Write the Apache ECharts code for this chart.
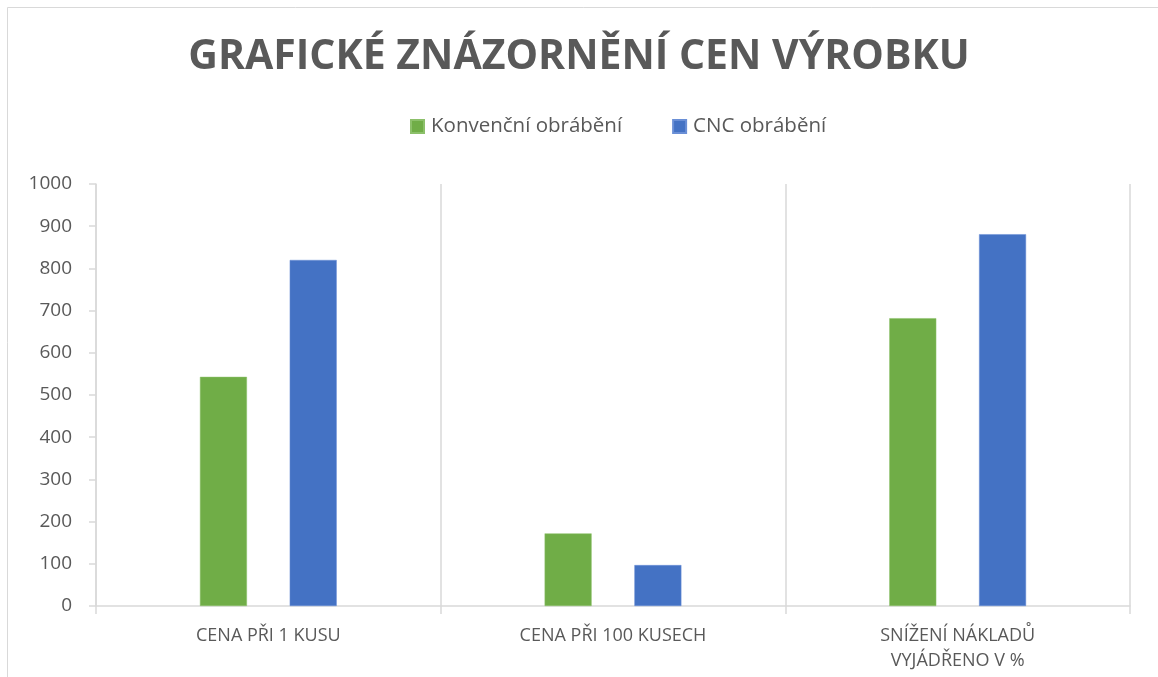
<!DOCTYPE html>
<html>
<head>
<meta charset="utf-8">
<script src="https://cdn.jsdelivr.net/npm/echarts@6/dist/echarts.min.js"></script>
<style>html,body{margin:0;padding:0;background:#fff}#c{width:1158px;height:677px}</style>
</head>
<body>
<div id="c"></div>
<script>
const titleText = 'GRAFICKÉ ZNÁZORNĚNÍ CEN VÝROBKU';
const categories = ['CENA PŘI 1 KUSU', 'CENA PŘI 100 KUSECH', 'SNÍŽENÍ NÁKLADŮ\nVYJÁDŘENO V %'];
const seriesNames = ['Konvenční obrábění', 'CNC obrábění'];
const konvencni = [543, 172, 682];
const cnc = [820, 97, 881];
const yMin = 0, yMax = 1000, yStep = 100;

const chart = echarts.init(document.getElementById('c'), null, {renderer: 'canvas'});
const txt = '#595959';
const line = '#d9d9d9';
chart.setOption({
  animation: false,
  backgroundColor: '#fff',
  graphic: [{
    type: 'rect', shape: {x: 7.5, y: 7.5, width: 1170, height: 700},
    style: {fill: 'none', stroke: line, lineWidth: 1}, silent: true, z: -1
  }],
  title: {
    text: titleText, left: 'center', top: 32,
    textStyle: {fontFamily: 'Open Sans', fontWeight: 'bold', fontSize: 41, color: txt}
  },
  legend: {
    top: 111, left: 405, itemWidth: 13, itemHeight: 13, itemGap: 50,
    icon: 'rect',
    textStyle: {fontFamily: 'Open Sans', fontSize: 20.5, color: txt, padding: [0, 0, 0, 2]},
    data: seriesNames
  },
  grid: {left: 96, right: 28, top: 184, bottom: 71, containLabel: false},
  xAxis: {
    type: 'category', data: categories, boundaryGap: true,
    axisLine: {show: true, lineStyle: {color: line, width: 1.5}},
    axisTick: {show: true, length: 8, lineStyle: {color: line, width: 1.5}},
    splitLine: {show: true, lineStyle: {color: line, width: 1.5}},
    axisLabel: {fontFamily: 'Open Sans', fontSize: 18, color: txt, margin: 17, lineHeight: 25, interval: 0}
  },
  yAxis: {
    type: 'value', min: yMin, max: yMax, interval: yStep,
    axisLine: {show: true, lineStyle: {color: line, width: 1.5}},
    axisTick: {show: true, length: 7, inside: false, lineStyle: {color: line, width: 1.5}},
    splitLine: {show: false},
    axisLabel: {fontFamily: 'Open Sans', fontSize: 19, color: txt, margin: 24,
      formatter: function (v) { return String(v); }}
  },
  series: [
    {name: seriesNames[0], type: 'bar', data: konvencni, barWidth: 47, barGap: '91%',
     itemStyle: {color: '#70ad47', borderColor: '#8cc06a', borderWidth: 0.5}},
    {name: seriesNames[1], type: 'bar', data: cnc, barWidth: 47, barGap: '91%',
     itemStyle: {color: '#4472c4', borderColor: '#6a8fd6', borderWidth: 0.5}}
  ]
});
</script>
</body>
</html>
